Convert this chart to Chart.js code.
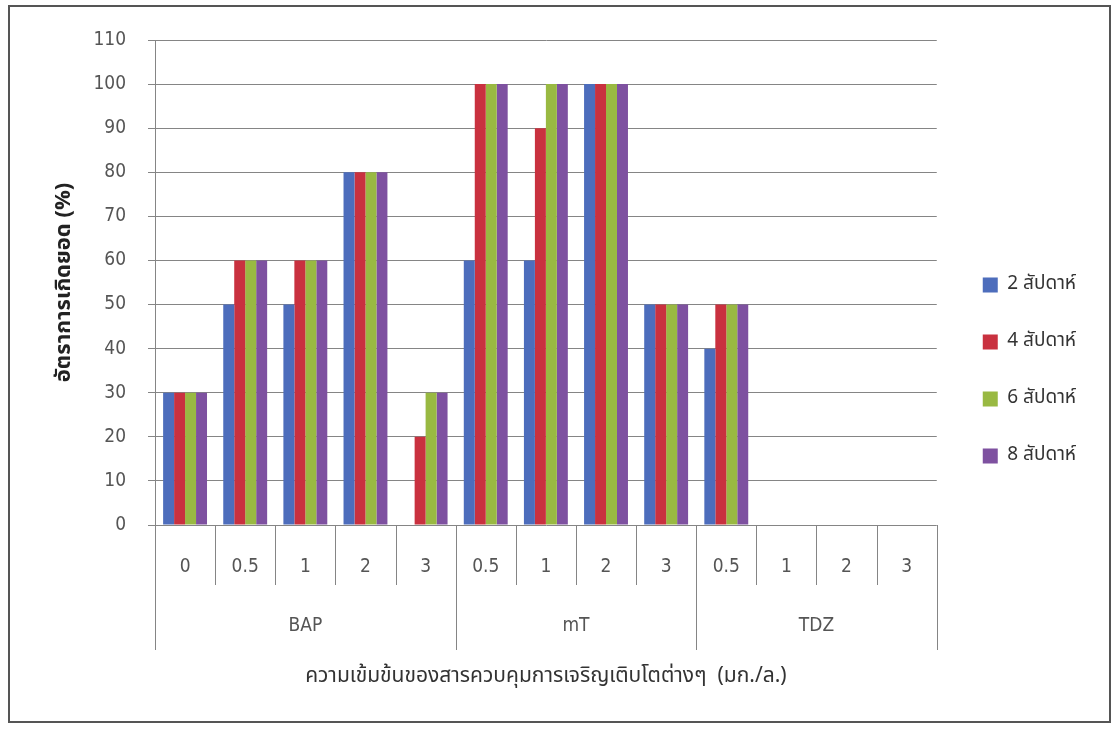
<!DOCTYPE html>
<html>
<head>
<meta charset="utf-8">
<script src="https://cdn.jsdelivr.net/npm/chart.js@4.4.0/dist/chart.umd.min.js"></script>
<style>
  html, body { margin: 0; padding: 0; background: #fff; }
  #wrap { position: relative; width: 1114px; height: 729px; }
  #frame {
    position: absolute; left: 8px; top: 5px; width: 1099px; height: 714px;
    border: 2px solid #555; pointer-events: none;
  }
</style>
</head>
<body>
<div id="wrap">
  <canvas id="shootChart" width="1114" height="729"></canvas>
  <div id="frame"></div>
</div>
<script>
// Shoot formation rate by growth regulator and concentration
const categories = ["0", "0.5", "1", "2", "3", "0.5", "1", "2", "3", "0.5", "1", "2", "3"];
const groupNames = ["BAP", "mT", "TDZ"];
const groupSpans = [5, 4, 4];
const seriesNames = ["2 สัปดาห์", "4 สัปดาห์", "6 สัปดาห์", "8 สัปดาห์"];
const week2 = [30, 50, 50, 80, 0, 60, 60, 100, 50, 40, 0, 0, 0];
const week4 = [30, 60, 60, 80, 20, 100, 90, 100, 50, 50, 0, 0, 0];
const week6 = [30, 60, 60, 80, 30, 100, 100, 100, 50, 50, 0, 0, 0];
const week8 = [30, 60, 60, 80, 30, 100, 100, 100, 50, 50, 0, 0, 0];
const yTicks = [0, 10, 20, 30, 40, 50, 60, 70, 80, 90, 100, 110];

const colors = ["#4d6dbc", "#c9313f", "#99b942", "#7e51a0"];
const numFont = "'DejaVu Sans Condensed', 'DejaVu Sans', sans-serif";
const thaiFont = "'Noto Sans Thai', 'Noto Sans', 'DejaVu Sans', sans-serif";
const lineColor = "#858585";

// separators and group names under the category labels
const groupAxisPlugin = {
  id: "groupAxis",
  afterLayout(chart) {
    // nudge the legend a little away from the plot
    chart.legend.left += 8;
    chart.legend.right += 8;
  },
  afterDraw(chart) {
    const { ctx, chartArea } = chart;
    const x = chart.scales.x;
    const catW = (chartArea.right - chartArea.left) / categories.length;
    const bounds = [0];
    groupSpans.forEach((s) => bounds.push(bounds[bounds.length - 1] + s));

    ctx.save();
    ctx.strokeStyle = lineColor;
    ctx.lineWidth = 1;
    for (let i = 0; i <= categories.length; i++) {
      const px = Math.round(chartArea.left + i * catW) + 0.5;
      const isGroup = bounds.includes(i);
      ctx.beginPath();
      ctx.moveTo(px, chartArea.bottom);
      ctx.lineTo(px, chartArea.bottom + (isGroup ? 125 : 60));
      ctx.stroke();
    }

    ctx.fillStyle = "#555";
    ctx.font = "19px " + numFont;
    ctx.textAlign = "center";
    ctx.textBaseline = "middle";
    groupNames.forEach((name, g) => {
      const first = x.getPixelForValue(bounds[g]);
      const last = x.getPixelForValue(bounds[g + 1] - 1);
      ctx.fillText(name, (first + last) / 2, chartArea.bottom + 101);
    });
    ctx.restore();
  },
};

new Chart(document.getElementById("shootChart").getContext("2d"), {
  type: "bar",
  data: {
    labels: categories,
    datasets: [week2, week4, week6, week8].map((d, i) => ({
      label: seriesNames[i],
      data: d,
      backgroundColor: colors[i],
      categoryPercentage: 0.73,
      barPercentage: 1.0,
    })),
  },
  options: {
    responsive: false,
    animation: false,
    layout: { padding: { top: 40, left: 0, right: 36, bottom: 28 } },
    plugins: {
      legend: {
        position: "right",
        labels: {
          color: "#333",
          font: { family: thaiFont, size: 19 },
          boxWidth: 15,
          boxHeight: 15,
          padding: 38,
        },
      },
      tooltip: { enabled: false },
    },
    scales: {
      x: {
        afterFit: (scale) => { scale.height = 176; },
        grid: { display: false, drawTicks: false, tickLength: 0 },
        border: { display: false },
        ticks: {
          color: "#555",
          font: { family: numFont, size: 19 },
          padding: 31,
          maxRotation: 0,
          autoSkip: false,
        },
        title: {
          display: true,
          text: "ความเข้มข้นของสารควบคุมการเจริญเติบโตต่างๆ  (มก./ล.)",
          color: "#333",
          font: { family: thaiFont, size: 21 },
          padding: { top: 0, bottom: 11 },
        },
      },
      y: {
        min: 0,
        max: 110,
        afterFit: (scale) => { scale.width = 155; },
        afterBuildTicks: (scale) => { scale.ticks = yTicks.map((v) => ({ value: v })); },
        grid: { color: lineColor, tickLength: 7 },
        border: { display: true, color: lineColor },
        ticks: {
          color: "#555",
          font: { family: numFont, size: 19 },
          padding: 22,
        },
        title: {
          display: true,
          text: "อัตราการเกิดยอด (%)",
          color: "#222",
          font: { family: thaiFont, size: 22, weight: "bold" },
          padding: { top: 52, bottom: 0 },
        },
      },
    },
  },
  plugins: [groupAxisPlugin],
});
</script>
</body>
</html>
